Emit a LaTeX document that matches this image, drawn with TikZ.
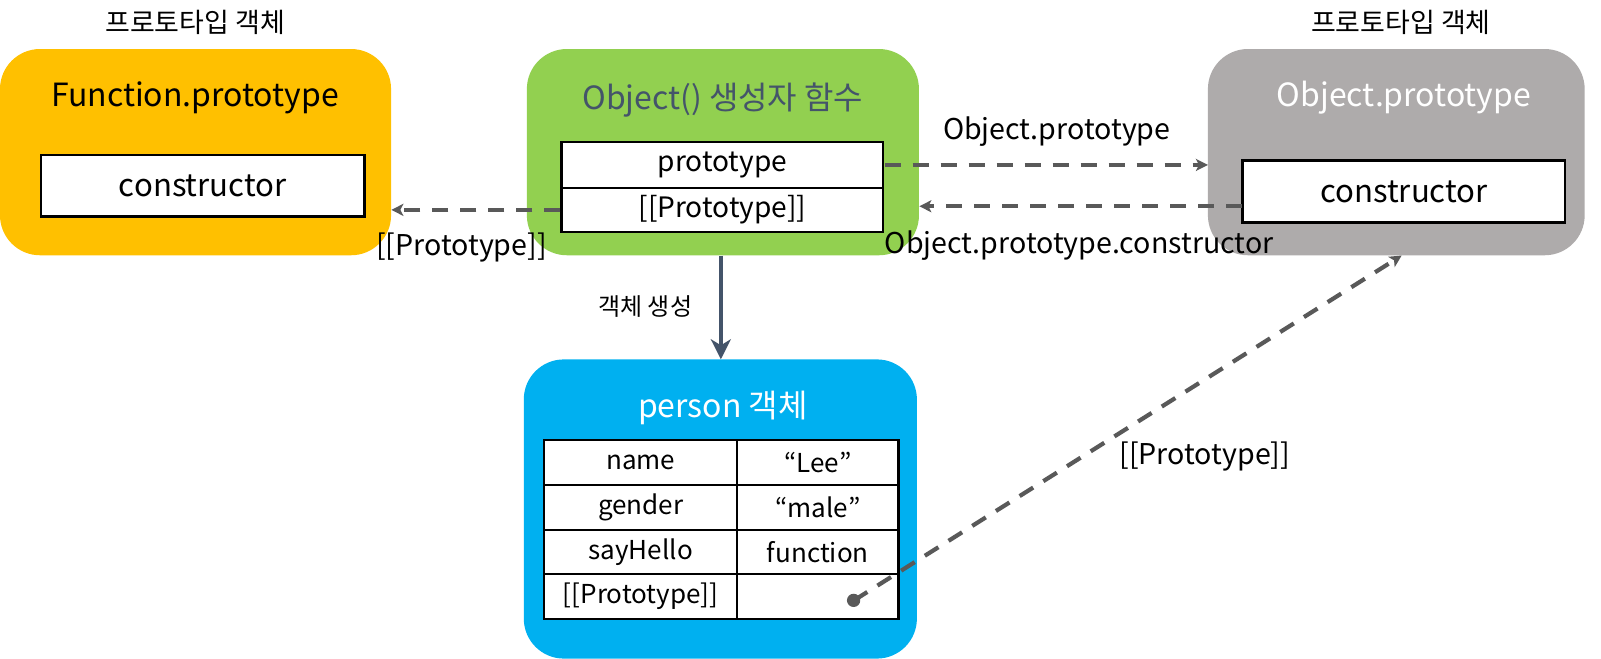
\documentclass[tikz,border=0pt]{standalone}
\usepackage{fontspec}
\setmainfont{Noto Sans CJK KR}
\usetikzlibrary{arrows.meta,calc}
\definecolor{cyellow}{HTML}{FFC000}
\definecolor{cgreen}{HTML}{92D050}
\definecolor{cgray}{HTML}{AEABAB}
\definecolor{cblue}{HTML}{00B0F0}
\definecolor{cslate}{HTML}{44546A}
\definecolor{cdash}{HTML}{595959}
\tikzset{
  objbox/.style={rectangle, rounded corners=40pt, inner sep=0pt, draw=none},
  cell/.style={rectangle, draw=black, line width=2.4pt, fill=white, inner sep=0pt, font=\fontsize{25.5}{30}\selectfont},
  midcell/.style={cell, font=\fontsize{27.5}{32}\selectfont},
  bigcell/.style={cell, font=\fontsize{30.5}{36}\selectfont},
  titletxt/.style={font=\fontsize{31.3}{36}\selectfont, inner sep=0pt},
  toptxt/.style={font=\fontsize{26.4}{30}\selectfont, inner sep=0pt},
  lbl/.style={font=\fontsize{28}{32}\selectfont, inner sep=0pt},
  klbl/.style={font=\fontsize{23.5}{28}\selectfont, inner sep=0pt},
  dasharrow/.style={draw=cdash, line width=4.2pt, dash pattern=on 16pt off 12pt, -{Stealth[length=12pt,width=12pt,inset=3pt]}},
  solidarrow/.style={draw=cslate, line width=4pt, -{Stealth[length=20pt,width=20pt,inset=6pt]}}
}
\begin{document}
\begin{tikzpicture}[x=1pt,y=-1pt,scale=1.0211,transform shape]
\useasboundingbox (0,0) rectangle (1568,645.4);
% boxes
\node[objbox, fill=cyellow, minimum width=383pt, minimum height=202pt] (fp) at (191.5,149) {};
\node[objbox, fill=cgreen, minimum width=384pt, minimum height=202pt] (oc) at (708,149) {};
\node[objbox, fill=cgray, minimum width=369pt, minimum height=202pt] (op) at (1367.5,149) {};
\node[objbox, fill=cblue, minimum width=385pt, minimum height=293pt] (pe) at (705.5,498.5) {};
% titles above
\node[toptxt] (t1) at (191,22) {프로토타입 객체};
\node[toptxt] (t2) at (1372,22) {프로토타입 객체};
% box titles
\node[titletxt] (fpt) at (191,96) {Function.prototype};
\node[titletxt, text=cslate] (oct) at (708,98) {Object() 생성자 함수};
\node[titletxt, text=white] (opt) at (1375,96) {Object.prototype};
\node[titletxt, text=white] (pet) at (708,400) {person 객체};
% inner cells
\node[bigcell, minimum width=317pt, minimum height=60pt] (fpc) at (198.5,182) {constructor};
\node[bigcell, minimum width=316pt, minimum height=61pt] (opc) at (1375,187.5) {constructor};
\node[midcell, minimum width=315pt, minimum height=45pt] (ocp) at (707.5,161.5) {prototype};
\node[midcell, minimum width=315pt, minimum height=43pt] (ocP) at (707.5,205.5) {[[Prototype]]};
% person table
\node[cell, minimum width=189pt, minimum height=44pt] (n1) at (627.5,453) {name};
\node[cell, minimum width=158pt, minimum height=44pt] (v1) at (801,453) {“Lee”};
\node[cell, minimum width=189pt, minimum height=44pt] (n2) at (627.5,497) {gender};
\node[cell, minimum width=158pt, minimum height=44pt] (v2) at (801,497) {“male”};
\node[cell, minimum width=189pt, minimum height=43pt] (n3) at (627.5,540.5) {sayHello};
\node[cell, minimum width=158pt, minimum height=43pt] (v3) at (801,540.5) {function};
\node[cell, minimum width=189pt, minimum height=44pt] (n4) at (627.5,584) {[[Prototype]]};
\node[cell, minimum width=158pt, minimum height=44pt] (v4) at (801,584) {};
% dot
\node[circle, fill=cdash, minimum size=13pt, inner sep=0pt] (dot) at (836,588) {};
% arrows
\draw[dasharrow] (ocP.west) -- (fp.east |- ocP.west);
\node[lbl] (l1) at (452,242) {[[Prototype]]};
\draw[dasharrow] (ocp.east) -- (op.west |- ocp.east);
\node[lbl] (l2) at (1035,129) {Object.prototype};
\draw[dasharrow] (opc.west |- 0,202) -- (oc.east |- 0,202);
\node[lbl] (l3) at (1057,241) {Object.prototype.constructor};
\draw[solidarrow] (oc.south -| 706,0) -- (pe.north -| 706,0);
\node[klbl] (l4) at (632,300) {객체 생성};
\draw[dasharrow] (dot.center) -- ($(op.south)+(5,0)$);
\node[lbl] (l5) at (1180,447) {[[Prototype]]};
\end{tikzpicture}
\end{document}
